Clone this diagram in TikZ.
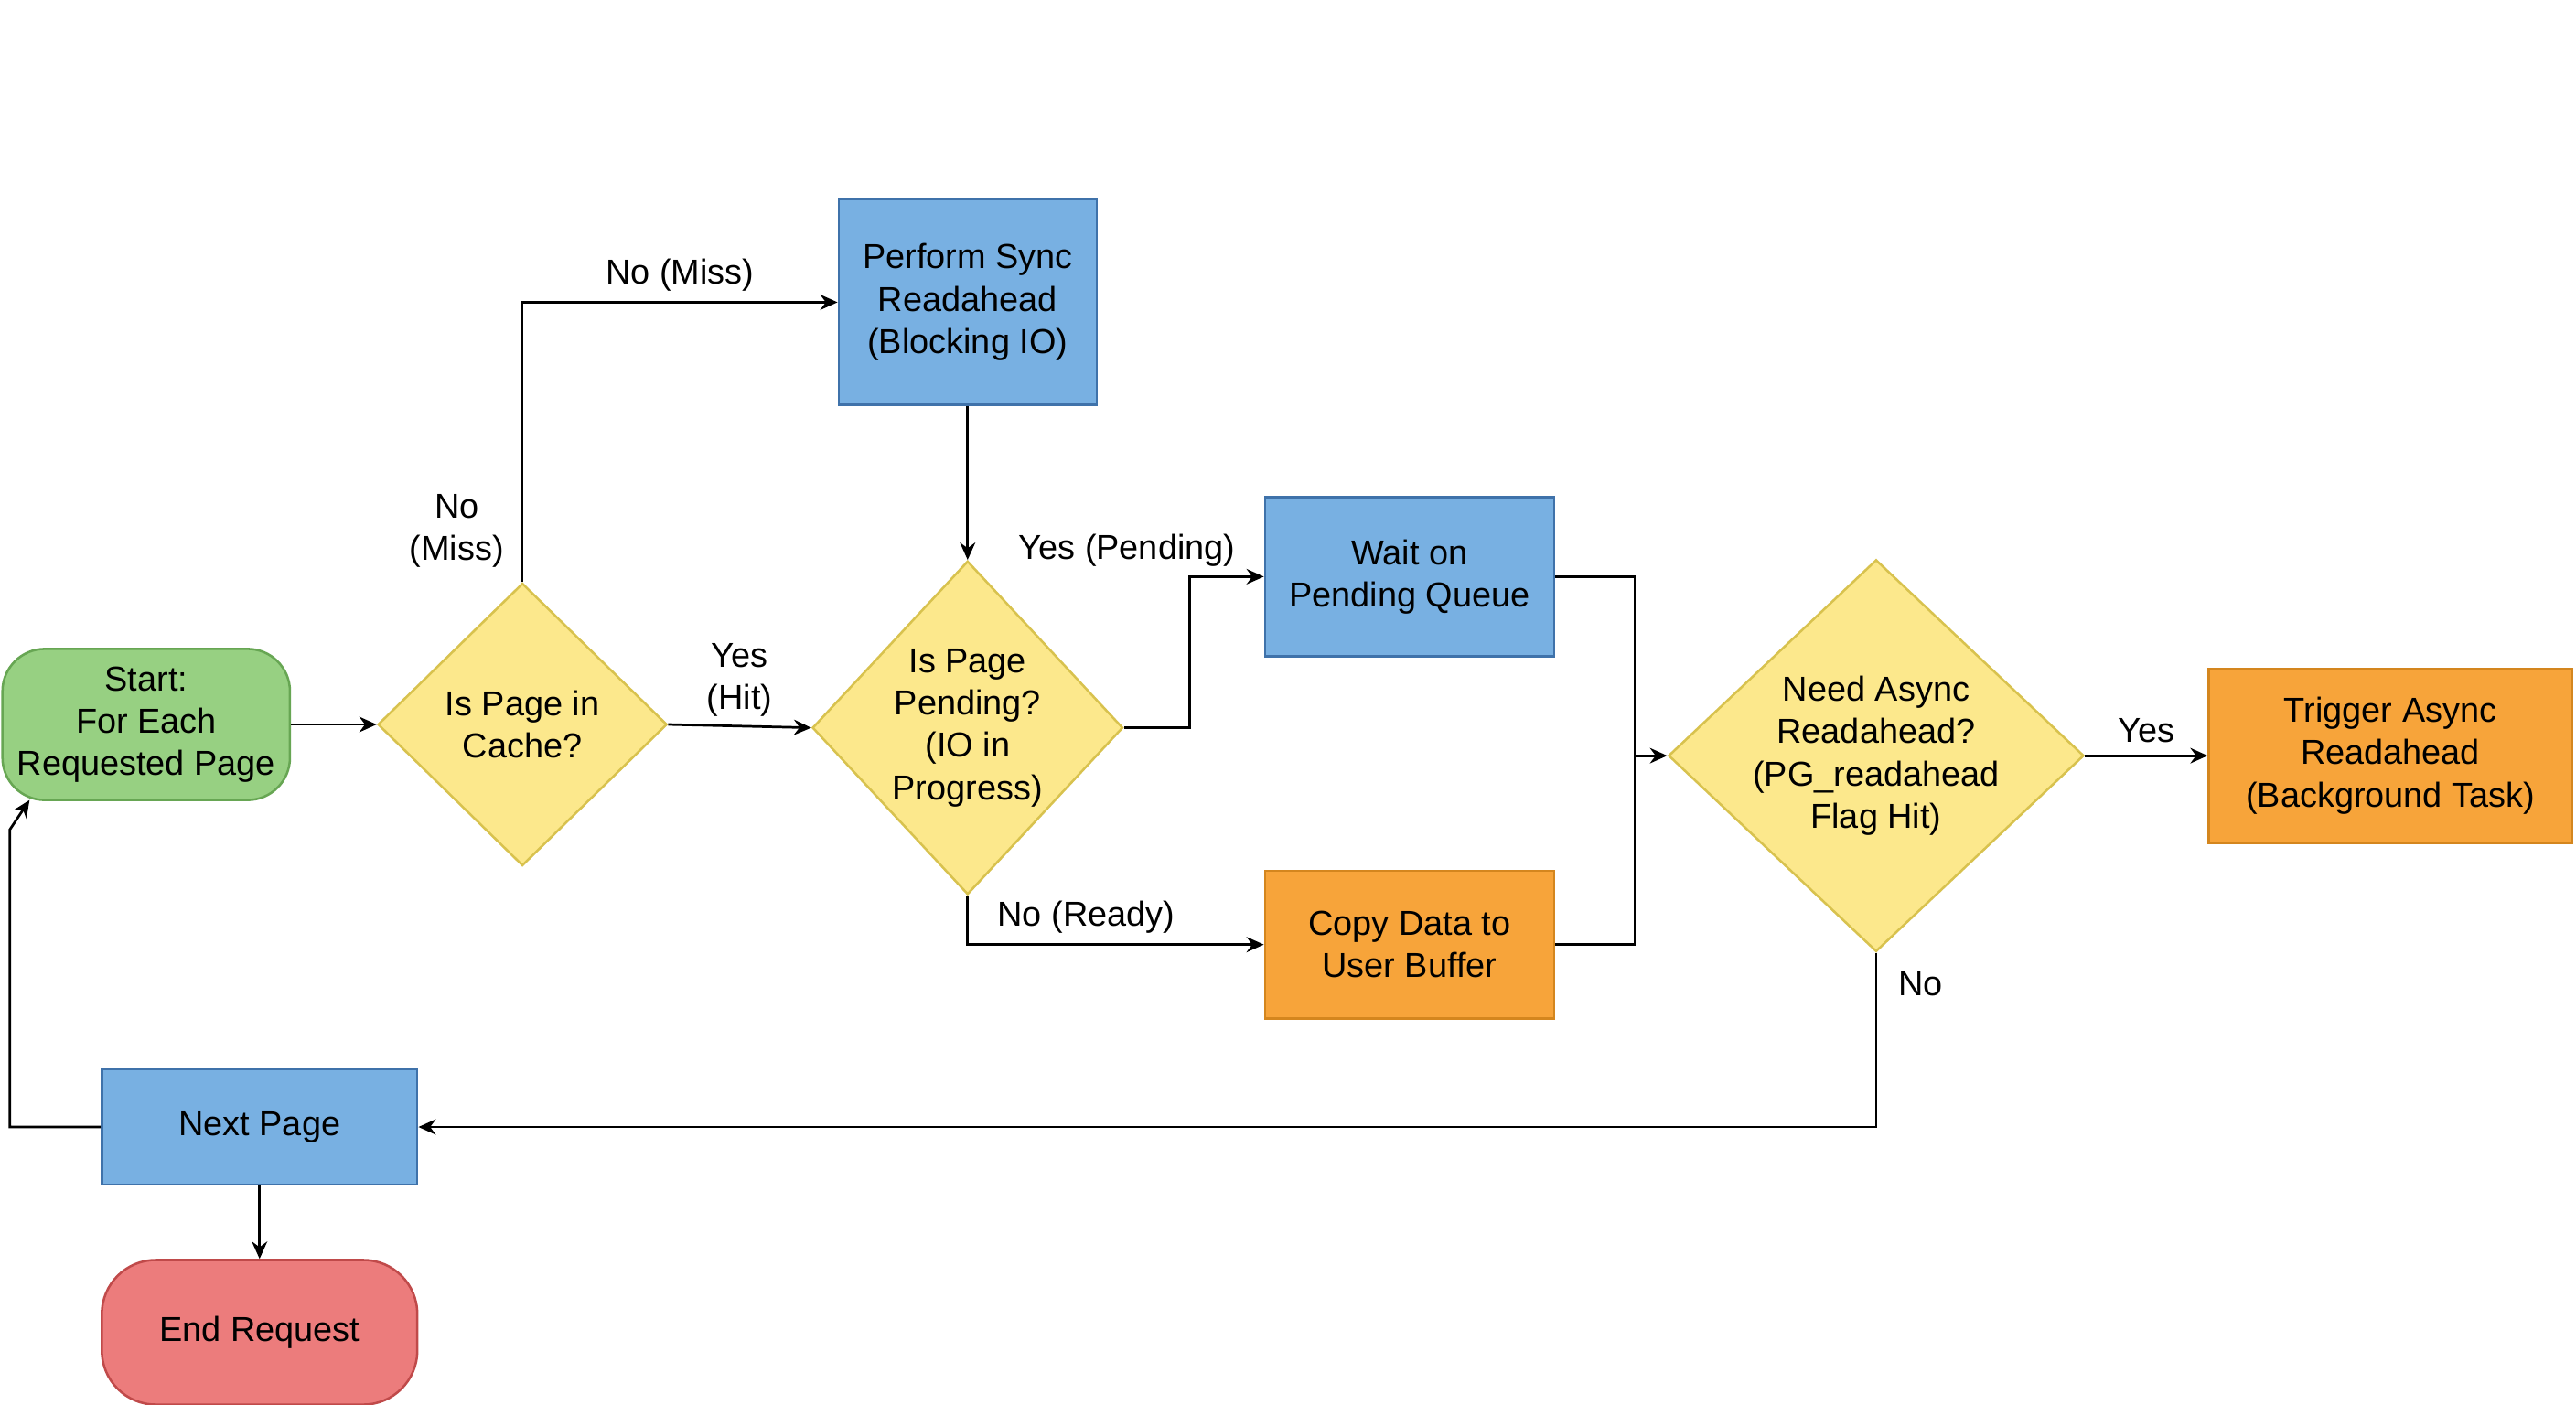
\documentclass[tikz,border=0pt]{standalone}
\usepackage{fontspec}
\setmainfont{Liberation Sans}
\usetikzlibrary{shapes.geometric,arrows.meta}
\definecolor{bF}{HTML}{78B0E2}\definecolor{bD}{HTML}{3F72AA}
\definecolor{yF}{HTML}{FCE88C}\definecolor{yD}{HTML}{D8C24E}
\definecolor{oF}{HTML}{F7A43A}\definecolor{oD}{HTML}{D4861E}
\definecolor{gF}{HTML}{97D082}\definecolor{gD}{HTML}{67A653}
\definecolor{rF}{HTML}{EC7C7C}\definecolor{rD}{HTML}{C04A4A}
\begin{document}
\begin{tikzpicture}[x=0.03cm,y=-0.03cm,
  every node/.style={font=\fontsize{18}{22}\selectfont,align=center},
  box/.style={draw=#1D,fill=#1F,line width=1.2pt,inner sep=0},
  dia/.style={diamond,draw=yD,fill=yF,line width=1.2pt,inner sep=0},
  arr/.style={-{Stealth[length=9pt,width=8pt]},line width=1.3pt},
  ln/.style={line width=1.3pt}]
\useasboundingbox (0,0) rectangle (1568,855);
\fill[white] (0,0) rectangle (1568,855);
\node[box=g,rounded corners=22pt,minimum width=175*0.03cm,minimum height=92*0.03cm] (start) at (89,441) {Start:\\For Each\\Requested Page};
\node[dia,minimum width=176*0.03cm,minimum height=172*0.03cm,aspect=1.02] (d1) at (318,441) {Is Page in\\Cache?};
\node[box=b,minimum width=157*0.03cm,minimum height=125*0.03cm] (sync) at (589,184) {Perform Sync\\Readahead\\(Blocking IO)};
\node[dia,minimum width=189*0.03cm,minimum height=203*0.03cm,aspect=0.93] (d2) at (589,443) {Is Page\\Pending?\\(IO in\\Progress)};
\node[box=b,minimum width=176*0.03cm,minimum height=97*0.03cm] (wait) at (858,351) {Wait on\\Pending Queue};
\node[box=o,minimum width=176*0.03cm,minimum height=90*0.03cm] (copy) at (858,575) {Copy Data to\\User Buffer};
\node[dia,minimum width=234*0.03cm,minimum height=220*0.03cm,aspect=1.06] (d3) at (1142,460) {Need Async\\Readahead?\\(PG\_readahead\\Flag Hit)};
\node[box=o,minimum width=221*0.03cm,minimum height=106*0.03cm] (trig) at (1455,460) {Trigger Async\\Readahead\\(Background Task)};
\node[box=b,minimum width=192*0.03cm,minimum height=70*0.03cm] (next) at (158,686) {Next Page};
\node[box=r,rounded corners=28pt,minimum width=192*0.03cm,minimum height=88*0.03cm] (end) at (158,811) {End Request};
\coordinate (j) at (995,460);
\coordinate (lp) at (6,505);
\draw[arr] (start.east) -- (d1.west);
\draw[arr] (d1.north) |- node[pos=0.75,above=2pt]{No (Miss)} (sync.west);
\node at (278,323) {No\\(Miss)};
\draw[arr] (d1.east) -- node[above=1pt]{Yes\\(Hit)} (d2.west);
\draw[arr] (sync.south) -- (d2.north);
\draw[arr] (d2.east) -- (724,443) |- (wait.west);
\node at (686,335) {Yes (Pending)};
\draw[arr] (d2.south) |- node[pos=0.7,above=2pt]{No (Ready)} (copy.west);
\draw[ln] (wait.east) -| (j);
\draw[ln] (copy.east) -| (j);
\draw[arr] (j) -- (d3.west);
\draw[arr] (d3.east) -- node[above=3pt]{Yes} (trig.west);
\draw[arr] (d3.south) |- (next.east);
\node at (1169,599) {No};
\draw[arr] (next.west) -| (lp) -- (18,487);
\draw[arr] (next.south) -- (end.north);
\end{tikzpicture}
\end{document}
